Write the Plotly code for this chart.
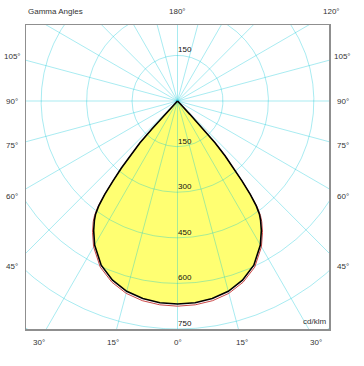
import numpy as np
import plotly.graph_objects as go

# Gamma angle (deg, 0 = straight down) and luminous intensity (cd/klm)
gamma = [0, 5, 10, 15, 20, 25, 30, 33, 35, 36, 37, 38, 39, 40, 41, 42, 42.5, 43, 43.5, 44, 45]
i_c0_c180 = [668, 666, 660, 648, 627, 596, 547, 508, 478, 460, 432, 390, 338, 288, 240, 185, 125, 60, 15, 0, 0]
i_c90_c270 = [675, 673, 667, 655, 634, 603, 554, 515, 485, 466, 437, 393, 340, 289, 240, 185, 125, 60, 15, 0, 0]

# Grid / labels
ring_values = [150, 300, 450, 600, 750, 900]
ring_labels_down = [150, 300, 450, 600, 750]
ring_labels_up = [150]
spoke_angles = list(range(0, 360, 15))
left_angle_labels = [105, 90, 75, 60, 45, 30, 15]
right_angle_labels = [120, 105, 90, 75, 60, 45, 30, 15]
center_angle_labels = [0, 180]

X_RANGE = [-500, 500]
Y_RANGE = [-750, 250]
LABEL_BOX_X = 546
LABEL_BOX_Y_DOWN = 794
LABEL_BOX_Y_UP = 294

FONT = "Liberation Sans, Arial, sans-serif"
GRID = "rgba(0,195,215,0.34)"


def to_xy(ang_deg, inten):
    a = np.radians(np.asarray(ang_deg, dtype=float))
    r = np.asarray(inten, dtype=float)
    return r * np.sin(a), -r * np.cos(a)


def full_curve(vals):
    g = np.asarray(gamma, dtype=float)
    v = np.asarray(vals, dtype=float)
    ang = np.concatenate([-g[::-1], g[1:]])
    inten = np.concatenate([v[::-1], v[1:]])
    return to_xy(ang, inten)


def px(x):
    return (x - X_RANGE[0]) / (X_RANGE[1] - X_RANGE[0])


def py(y):
    return (y - Y_RANGE[0]) / (Y_RANGE[1] - Y_RANGE[0])


fig = go.Figure()

# Yellow fill of the C0-C180 curve
bx, by = full_curve(i_c0_c180)
fig.add_trace(go.Scatter(x=bx, y=by, mode="lines", fill="toself",
                         fillcolor="#ffff72", line=dict(width=0, color="#ffff72"),
                         hoverinfo="skip"))

# Grid circles
t = np.linspace(0, 360, 721)
gx, gy = [], []
for rv in ring_values:
    cx, cy = to_xy(t, np.full_like(t, rv))
    gx += list(cx) + [None]
    gy += list(cy) + [None]
# Spokes
for a in spoke_angles:
    sx, sy = to_xy([a, a], [0, 1400])
    gx += list(sx) + [None]
    gy += list(sy) + [None]
fig.add_trace(go.Scatter(x=gx, y=gy, mode="lines", line=dict(color=GRID, width=1),
                         hoverinfo="skip"))

# Curves
rx, ry = full_curve(i_c90_c270)
fig.add_trace(go.Scatter(x=rx, y=ry, mode="lines", line=dict(color="#cc4848", width=1),
                         hoverinfo="skip"))
fig.add_trace(go.Scatter(x=bx, y=by, mode="lines", line=dict(color="#000000", width=1.6),
                         hoverinfo="skip"))

annotations = []


def angle_label_pos(a, side):
    dx = side * np.sin(np.radians(a))
    dy = -np.cos(np.radians(a))
    cands = []
    if abs(dx) > 1e-9:
        cands.append(LABEL_BOX_X / abs(dx))
    if dy < -1e-9:
        cands.append(LABEL_BOX_Y_DOWN / -dy)
    if dy > 1e-9:
        cands.append(LABEL_BOX_Y_UP / dy)
    tt = min(cands)
    return tt * dx, tt * dy


for side, labels in ((-1, left_angle_labels), (1, right_angle_labels), (0, center_angle_labels)):
    for a in labels:
        lx, ly = angle_label_pos(a, side if side != 0 else 1)
        if side == 0:
            lx = 0
        annotations.append(dict(x=px(lx), y=py(ly), xref="paper", yref="paper", text=f"{a}°",
                                showarrow=False, xanchor="center", yanchor="middle",
                                font=dict(family=FONT, size=8, color="#333333")))

for v in ring_labels_down:
    annotations.append(dict(x=px(0), y=py(-v), xref="paper", yref="paper", text=str(v),
                            showarrow=False, xanchor="left", yanchor="bottom", xshift=-2, yshift=-1,
                            font=dict(family=FONT, size=8, color="#111111")))
for v in ring_labels_up:
    annotations.append(dict(x=px(0), y=py(v), xref="paper", yref="paper", text=str(v),
                            showarrow=False, xanchor="left", yanchor="bottom", xshift=-2, yshift=-1,
                            font=dict(family=FONT, size=8, color="#111111")))

annotations.append(dict(x=px(X_RANGE[0]), y=py(LABEL_BOX_Y_UP), xref="paper", yref="paper",
                        text="Gamma Angles", showarrow=False, xanchor="left", yanchor="middle",
                        font=dict(family=FONT, size=8, color="#333333")))
annotations.append(dict(x=px(X_RANGE[1]), y=py(Y_RANGE[0]), xref="paper", yref="paper",
                        text="cd/klm", showarrow=False, xanchor="right", yanchor="bottom",
                        xshift=-1, yshift=1,
                        font=dict(family=FONT, size=8, color="#333333")))

axis_common = dict(showgrid=False, zeroline=False, showticklabels=False, ticks="",
                   showline=True, linecolor="#8f8f8f", linewidth=1.5, mirror=True,
                   fixedrange=True)

fig.update_layout(
    width=364, height=366,
    margin=dict(l=26, r=35, t=25, b=37),
    paper_bgcolor="white", plot_bgcolor="white",
    showlegend=False, hovermode=False,
    xaxis=dict(range=X_RANGE, **axis_common),
    yaxis=dict(range=Y_RANGE, **axis_common),
    annotations=annotations,
)

fig.write_html("out.html",
               config={"displayModeBar": False, "staticPlot": True},
               post_script="document.body.style.margin='0';document.body.style.overflow='hidden';")
